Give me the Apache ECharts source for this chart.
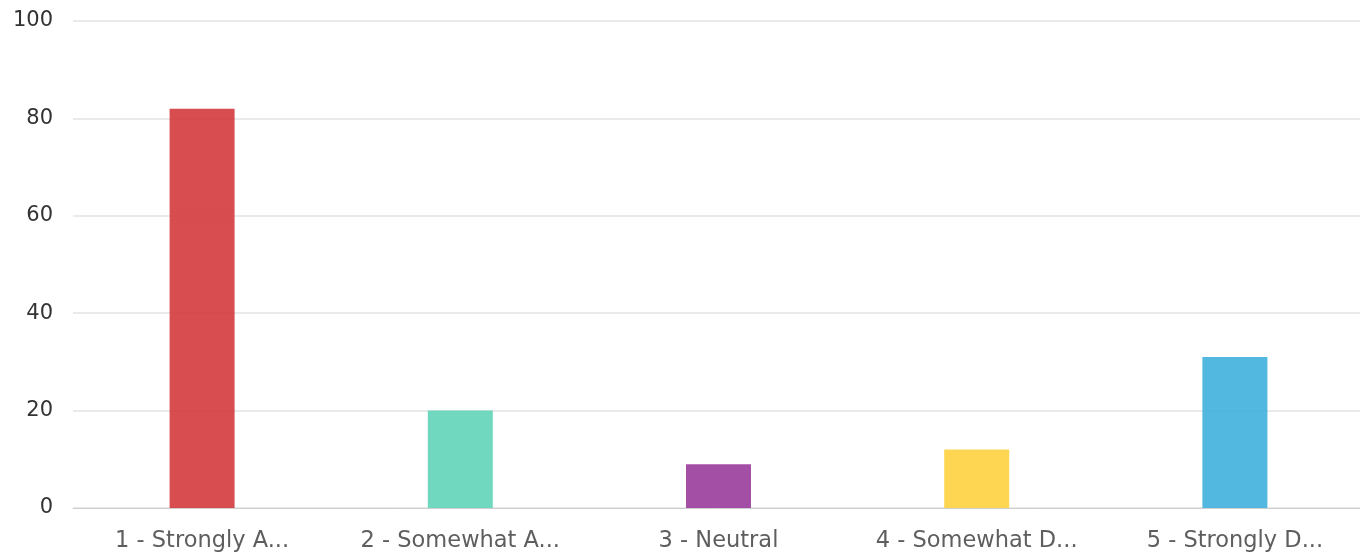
<!DOCTYPE html>
<html>
<head>
<meta charset="utf-8">
<script src="https://cdn.jsdelivr.net/npm/echarts@6/dist/echarts.min.js"></script>
<style>
  html, body { margin: 0; padding: 0; background: #fff; }
  #chart { width: 1360px; height: 559px; }
</style>
</head>
<body>
<div id="chart"></div>
<script>
// Survey response counts per answer option
const categories = ['1 - Strongly A...', '2 - Somewhat A...', '3 - Neutral', '4 - Somewhat D...', '5 - Strongly D...'];
const counts = [82, 20, 9, 12, 31];
const barColors = ['#d33a3d', '#5fd4b8', '#9a3c9c', '#ffd23e', '#3fb0dd'];
const yTicks = [0, 20, 40, 60, 80, 100];

const chart = echarts.init(document.getElementById('chart'));
chart.setOption({
  animation: false,
  grid: { left: 73, width: 1291, top: 21, bottom: 51, outerBoundsMode: 'none', containLabel: false },
  xAxis: {
    type: 'category',
    data: categories,
    axisLine: { lineStyle: { color: '#cfcfcf', width: 1 } },
    axisTick: { alignWithLabel: true, length: 6, lineStyle: { color: '#888' } },
    axisLabel: { interval: 0, hideOverlap: false, color: '#5e5e5e', fontSize: 22.5, fontFamily: 'DejaVu Sans', margin: 22 }
  },
  yAxis: {
    type: 'value',
    min: yTicks[0],
    max: yTicks[yTicks.length - 1],
    interval: 20,
    axisLine: { show: false },
    axisTick: { show: false },
    axisLabel: { color: '#333', fontSize: 21, fontFamily: 'DejaVu Sans', margin: 20 },
    splitLine: { lineStyle: { color: '#e3e3e3', width: 1.5 } }
  },
  series: [{
    type: 'bar',
    barWidth: 65,
    data: counts.map((v, i) => ({ value: v, itemStyle: { color: barColors[i], opacity: 0.9 } }))
  }]
});
</script>
</body>
</html>
